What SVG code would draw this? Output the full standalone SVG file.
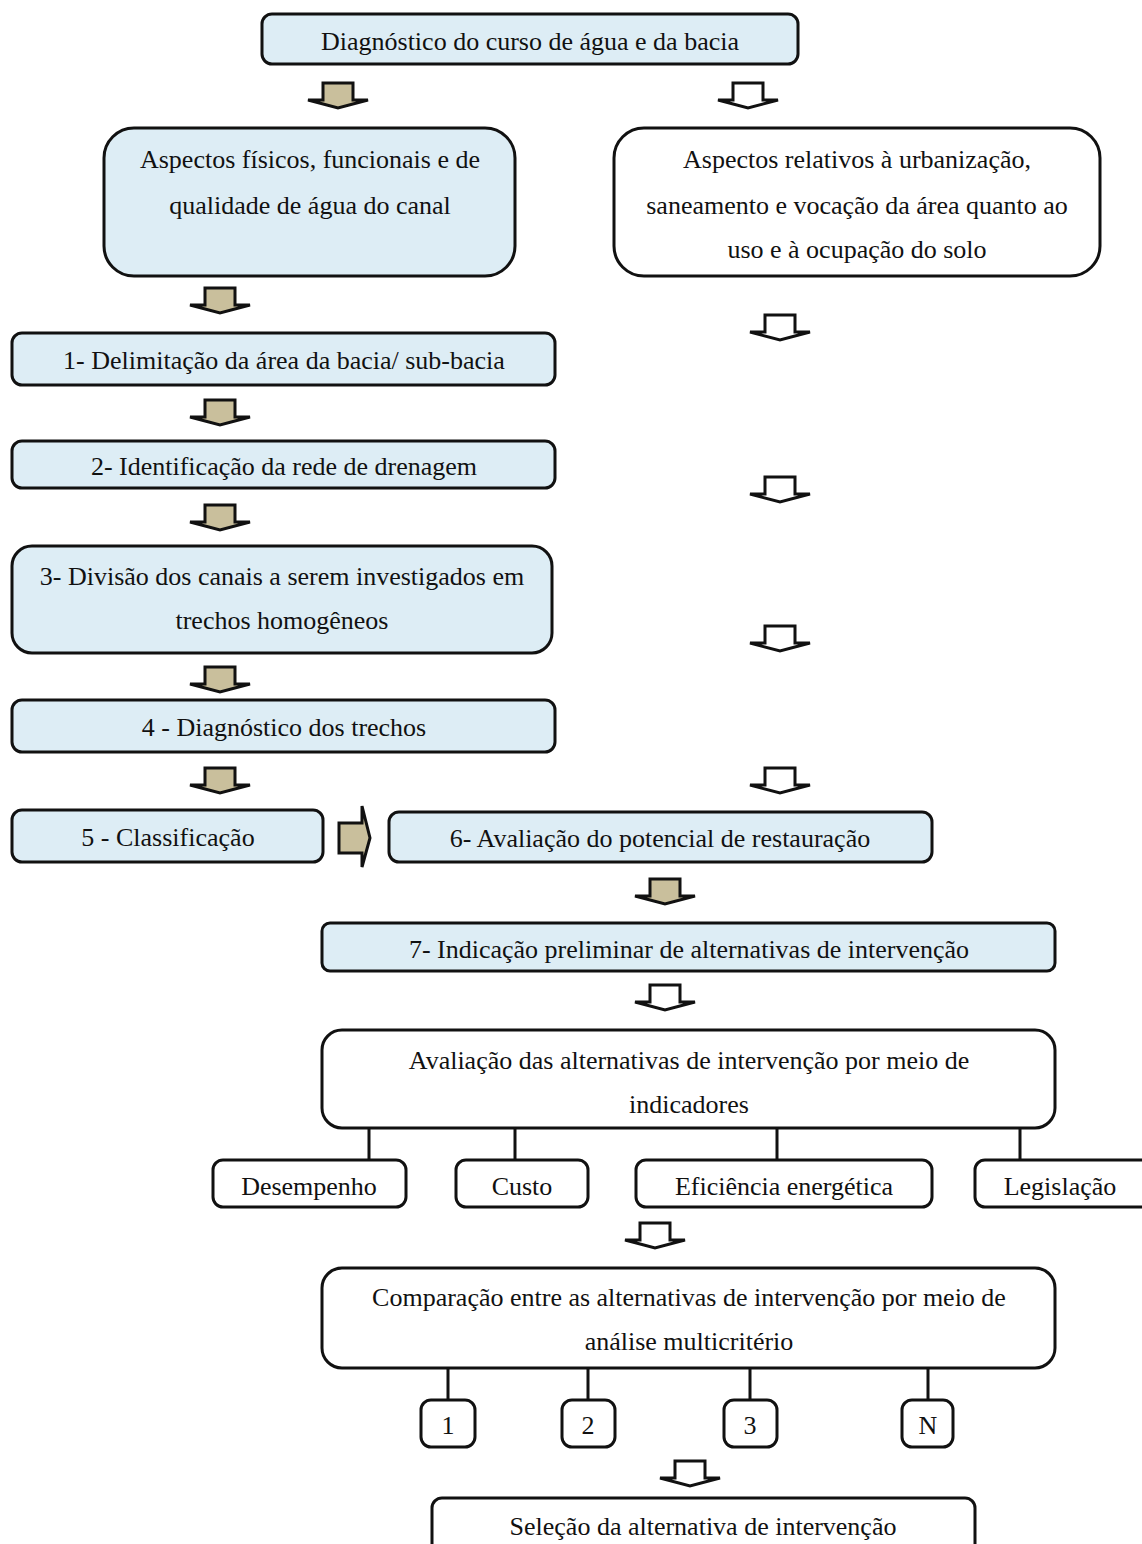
<svg xmlns="http://www.w3.org/2000/svg" width="1142" height="1544" viewBox="0 0 1142 1544">
<style>
.b{stroke:#111;stroke-width:3}
.blue{fill:#ddedf5}
.white{fill:#fff}
text{font-family:"Liberation Serif","Times New Roman",serif;font-size:26px;fill:#111;text-anchor:middle;dominant-baseline:central}
.ln{stroke:#111;stroke-width:3;fill:none}
.ag{fill:#c9bf9c;stroke:#111;stroke-width:3;stroke-linejoin:miter}
.aw{fill:#fff;stroke:#111;stroke-width:3;stroke-linejoin:miter}
</style>
<defs>
<path id="ad" d="M-15,0 H15 V17 H30 L0,25 L-30,17 H-15 Z"/>
</defs>
<rect width="1142" height="1544" fill="#fff"/>

<g id="n0"><rect class="b blue" x="262" y="14" width="536" height="50" rx="10"/><text x="530" y="41">Diagnóstico do curso de água e da bacia</text></g>
<g id="n1"><rect class="b blue" x="104" y="128" width="411" height="148" rx="30"/><text x="310" y="159">Aspectos físicos, funcionais e de</text><text x="310" y="205">qualidade de água do canal</text></g>
<g id="n2"><rect class="b white" x="614" y="128" width="486" height="148" rx="30"/><text x="857" y="159">Aspectos relativos à urbanização,</text><text x="857" y="205">saneamento e vocação da área quanto ao</text><text x="857" y="249">uso e à ocupação do solo</text></g>
<g id="n3"><rect class="b blue" x="12" y="333" width="543" height="52" rx="10"/><text x="284" y="360">1- Delimitação da área da bacia/ sub-bacia</text></g>
<g id="n4"><rect class="b blue" x="12" y="441" width="543" height="47" rx="10"/><text x="284" y="466">2- Identificação da rede de drenagem</text></g>
<g id="n5"><rect class="b blue" x="12" y="546" width="540" height="107" rx="20"/><text x="282" y="576">3- Divisão dos canais a serem investigados em</text><text x="282" y="620">trechos homogêneos</text></g>
<g id="n6"><rect class="b blue" x="12" y="700" width="543" height="52" rx="10"/><text x="284" y="727">4 - Diagnóstico dos trechos</text></g>
<g id="n7"><rect class="b blue" x="12" y="810" width="311" height="52" rx="10"/><text x="168" y="837">5 - Classificação</text></g>
<g id="n8"><rect class="b blue" x="389" y="812" width="543" height="50" rx="10"/><text x="660" y="838">6- Avaliação do potencial de restauração</text></g>
<g id="n9"><rect class="b blue" x="322" y="923" width="733" height="48" rx="8"/><text x="689" y="949">7- Indicação preliminar de alternativas de intervenção</text></g>
<g id="n10"><rect class="b white" x="322" y="1030" width="733" height="98" rx="20"/><text x="689" y="1060">Avaliação das alternativas de intervenção por meio de</text><text x="689" y="1104">indicadores</text></g>
<g id="n11"><rect class="b white" x="213" y="1160" width="193" height="47" rx="10"/><text x="309" y="1186">Desempenho</text></g>
<g id="n12"><rect class="b white" x="456" y="1160" width="132" height="47" rx="10"/><text x="522" y="1186">Custo</text></g>
<g id="n13"><rect class="b white" x="636" y="1160" width="296" height="47" rx="10"/><text x="784" y="1186">Eficiência energética</text></g>
<g id="n14"><rect class="b white" x="975" y="1160" width="180" height="47" rx="10"/><text x="1060" y="1186">Legislação</text></g>
<g id="n15"><rect class="b white" x="322" y="1268" width="733" height="100" rx="20"/><text x="689" y="1297">Comparação entre as alternativas de intervenção por meio de</text><text x="689" y="1341">análise multicritério</text></g>
<g id="n16"><rect class="b white" x="421" y="1400" width="54" height="47" rx="10"/><text x="448" y="1425">1</text></g>
<g id="n17"><rect class="b white" x="562" y="1400" width="53" height="47" rx="10"/><text x="588" y="1425">2</text></g>
<g id="n18"><rect class="b white" x="724" y="1400" width="53" height="47" rx="10"/><text x="750" y="1425">3</text></g>
<g id="n19"><rect class="b white" x="902" y="1400" width="51" height="47" rx="10"/><text x="928" y="1425">N</text></g>
<g id="n20"><rect class="b white" x="432" y="1498" width="543" height="60" rx="10"/><text x="703" y="1526">Seleção da alternativa de intervenção</text></g>

<g id="connectors">
<use href="#ad" class="ag" x="338" y="83"/>
<use href="#ad" class="aw" x="748" y="83"/>
<use href="#ad" class="ag" x="220" y="288"/>
<use href="#ad" class="aw" x="780" y="315"/>
<use href="#ad" class="ag" x="220" y="400"/>
<use href="#ad" class="aw" x="780" y="477"/>
<use href="#ad" class="ag" x="220" y="505"/>
<use href="#ad" class="aw" x="780" y="626"/>
<use href="#ad" class="ag" x="220" y="667"/>
<use href="#ad" class="ag" x="220" y="768"/>
<use href="#ad" class="aw" x="780" y="768"/>
<path class="ag" d="M339,823 H362 V806 L370,838 L362,867 V853 H339 Z"/>
<use href="#ad" class="ag" x="665" y="879"/>
<use href="#ad" class="aw" x="665" y="985"/>
<path class="ln" d="M369,1128 V1160 M515,1128 V1160 M777,1128 V1160 M1020,1128 V1160"/>
<use href="#ad" class="aw" x="655" y="1223"/>
<path class="ln" d="M448,1368 V1400 M588,1368 V1400 M750,1368 V1400 M928,1368 V1400"/>
<use href="#ad" class="aw" x="690" y="1461"/>
</g>
</svg>
